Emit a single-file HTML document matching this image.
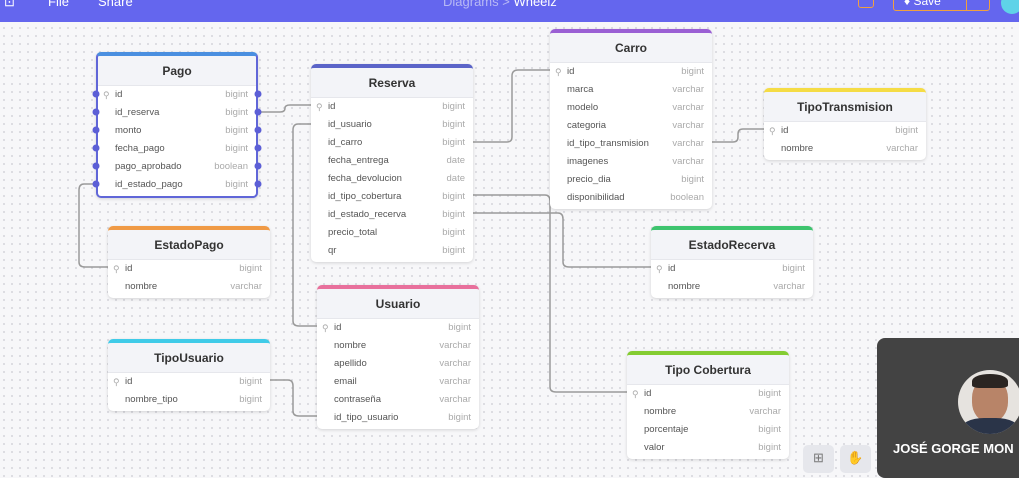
<!DOCTYPE html>
<html><head><meta charset="utf-8">
<style>
*{box-sizing:border-box;margin:0;padding:0}
body{width:1019px;height:468px;overflow:hidden;position:relative;font-family:"Liberation Sans",sans-serif;
background-color:#f7f7f9;background-image:radial-gradient(#d4d4da 0.8px,transparent 0.9px);background-size:8px 8px}
.hdr{position:absolute;left:0;top:0;width:1019px;height:22px;background:#6466ee;color:#fff;font-size:13px}
.t{position:absolute;width:162px;background:#fff;border-radius:5px;box-shadow:0 1px 3px rgba(0,0,0,.15);border-top:4px solid #999;overflow:hidden}
.t .h{height:30px;background:#f3f4f8;border-bottom:1px solid #e6e7ec;text-align:center;font-weight:bold;font-size:12px;line-height:30px;color:#333}
.r{height:18px;line-height:18px;font-size:9.5px;color:#555;padding:0 8px 0 17px;position:relative}
.r span{position:absolute;right:8px;color:#aaa}
.r.k::before{content:"⚲";position:absolute;left:5px;color:#aaa;font-size:9px}
.t .pad{height:2px}
svg{position:absolute;left:0;top:0}
</style></head><body>
<div class="hdr">
<span style="position:absolute;left:4px;top:-6px">⊡</span>
<span style="position:absolute;left:48px;top:-6px">File</span>
<span style="position:absolute;left:98px;top:-6px">Share</span>
<span style="position:absolute;left:443px;top:-6px;color:#b8b9f5">Diagrams &gt; <span style="color:#fff">Wheelz</span></span>
<div style="position:absolute;left:858px;top:-4px;width:16px;height:12px;border:1.5px solid #f0a040;border-radius:3px"></div>
<div style="position:absolute;left:893px;top:-4px;width:97px;height:15px;border:1px solid #f0a040;border-radius:3px;background:#6466ee;color:#fff;font-size:12px;padding-left:10px;line-height:8px">♦ Save</div>
<div style="position:absolute;left:966px;top:-4px;width:1px;height:15px;background:#f0a040"></div>
<div style="position:absolute;left:1001px;top:-8px;width:22px;height:22px;border-radius:50%;background:#5fd3e8"></div>
</div>

<svg width="1019" height="468" fill="none" stroke="#9a9a9a" stroke-width="1.5">
<path d="M258 112 H280 Q285 112 285 108 Q285 105 290 105 H311"/>
<path d="M96 184 H84 Q79 184 79 190 V262 Q79 267 85 267 H108"/>
<path d="M311 124 H298 Q293 124 293 130 V321 Q293 326 299 326 H317"/>
<path d="M472 142 H507 Q512 142 512 137 V76 Q512 70 518 70 H550"/>
<path d="M711 142 H733 Q738 142 738 137 V134 Q738 129 743 129 H764"/>
<path d="M472 195 H545 Q550 195 550 201 V387 Q550 392 556 392 H627"/>
<path d="M472 213 H558 Q563 213 563 219 V262 Q563 267 569 267 H651"/>
<path d="M270 380 H288 Q293 380 293 386 V411 Q293 416 299 416 H317"/>
</svg>

<div class="t" style="left:96px;top:52px;border:2px solid #6066d8;border-top:4px solid #4a8fe0">
<div class="h">Pago</div>
<div class="r k">id<span>bigint</span></div>
<div class="r">id_reserva<span>bigint</span></div>
<div class="r">monto<span>bigint</span></div>
<div class="r">fecha_pago<span>bigint</span></div>
<div class="r">pago_aprobado<span>boolean</span></div>
<div class="r">id_estado_pago<span>bigint</span></div>
<div class="pad"></div>
</div>
<svg width="1019" height="468" fill="#5c5fd6">
<circle cx="96" cy="94" r="3.5"/><circle cx="96" cy="112" r="3.5"/><circle cx="96" cy="130" r="3.5"/><circle cx="96" cy="148" r="3.5"/><circle cx="96" cy="166" r="3.5"/><circle cx="96" cy="184" r="3.5"/>
<circle cx="258" cy="94" r="3.5"/><circle cx="258" cy="112" r="3.5"/><circle cx="258" cy="130" r="3.5"/><circle cx="258" cy="148" r="3.5"/><circle cx="258" cy="166" r="3.5"/><circle cx="258" cy="184" r="3.5"/>
</svg>

<div class="t" style="left:311px;top:64px;border-top-color:#5b64c8">
<div class="h">Reserva</div>
<div class="r k">id<span>bigint</span></div>
<div class="r">id_usuario<span>bigint</span></div>
<div class="r">id_carro<span>bigint</span></div>
<div class="r">fecha_entrega<span>date</span></div>
<div class="r">fecha_devolucion<span>date</span></div>
<div class="r">id_tipo_cobertura<span>bigint</span></div>
<div class="r">id_estado_recerva<span>bigint</span></div>
<div class="r">precio_total<span>bigint</span></div>
<div class="r">qr<span>bigint</span></div>
<div class="pad"></div>
</div>

<div class="t" style="left:550px;top:29px;border-top-color:#9a5fd4">
<div class="h">Carro</div>
<div class="r k">id<span>bigint</span></div>
<div class="r">marca<span>varchar</span></div>
<div class="r">modelo<span>varchar</span></div>
<div class="r">categoria<span>varchar</span></div>
<div class="r">id_tipo_transmision<span>varchar</span></div>
<div class="r">imagenes<span>varchar</span></div>
<div class="r">precio_dia<span>bigint</span></div>
<div class="r">disponibilidad<span>boolean</span></div>
<div class="pad"></div>
</div>

<div class="t" style="left:764px;top:88px;border-top-color:#f5dc45">
<div class="h">TipoTransmision</div>
<div class="r k">id<span>bigint</span></div>
<div class="r">nombre<span>varchar</span></div>
<div class="pad"></div>
</div>

<div class="t" style="left:108px;top:226px;border-top-color:#f09a45">
<div class="h">EstadoPago</div>
<div class="r k">id<span>bigint</span></div>
<div class="r">nombre<span>varchar</span></div>
<div class="pad"></div>
</div>

<div class="t" style="left:651px;top:226px;border-top-color:#3ec46e">
<div class="h">EstadoRecerva</div>
<div class="r k">id<span>bigint</span></div>
<div class="r">nombre<span>varchar</span></div>
<div class="pad"></div>
</div>

<div class="t" style="left:317px;top:285px;border-top-color:#e8709c">
<div class="h">Usuario</div>
<div class="r k">id<span>bigint</span></div>
<div class="r">nombre<span>varchar</span></div>
<div class="r">apellido<span>varchar</span></div>
<div class="r">email<span>varchar</span></div>
<div class="r">contraseña<span>varchar</span></div>
<div class="r">id_tipo_usuario<span>bigint</span></div>
<div class="pad"></div>
</div>

<div class="t" style="left:108px;top:339px;border-top-color:#3fcbe8">
<div class="h">TipoUsuario</div>
<div class="r k">id<span>bigint</span></div>
<div class="r">nombre_tipo<span>bigint</span></div>
<div class="pad"></div>
</div>

<div class="t" style="left:627px;top:351px;border-top-color:#84cc32">
<div class="h">Tipo Cobertura</div>
<div class="r k">id<span>bigint</span></div>
<div class="r">nombre<span>varchar</span></div>
<div class="r">porcentaje<span>bigint</span></div>
<div class="r">valor<span>bigint</span></div>
<div class="pad"></div>
</div>

<div style="position:absolute;left:803px;top:445px;width:31px;height:28px;background:#e6e7ec;border-radius:5px;color:#777;font-size:13px;text-align:center;line-height:26px">⊞</div>
<div style="position:absolute;left:840px;top:445px;width:31px;height:28px;background:#e6e7ec;border-radius:5px;color:#777;font-size:13px;text-align:center;line-height:26px">✋</div>

<div style="position:absolute;left:877px;top:338px;width:150px;height:140px;background:#434343;border-radius:8px;overflow:hidden">
<div style="position:absolute;left:81px;top:32px;width:64px;height:64px;border-radius:50%;background:#e6e3df;overflow:hidden">
<div style="position:absolute;left:14px;top:8px;width:36px;height:44px;border-radius:45%;background:#b88468"></div>
<div style="position:absolute;left:14px;top:4px;width:36px;height:14px;border-radius:50% 50% 20% 20%;background:#2a2522"></div>
<div style="position:absolute;left:2px;top:48px;width:60px;height:30px;border-radius:40% 40% 0 0;background:#2a3448"></div>
</div>
<div style="position:absolute;left:16px;top:103px;color:#fff;font-weight:bold;font-size:13px;white-space:nowrap">JOSÉ GORGE MON</div>
</div>
</body></html>
